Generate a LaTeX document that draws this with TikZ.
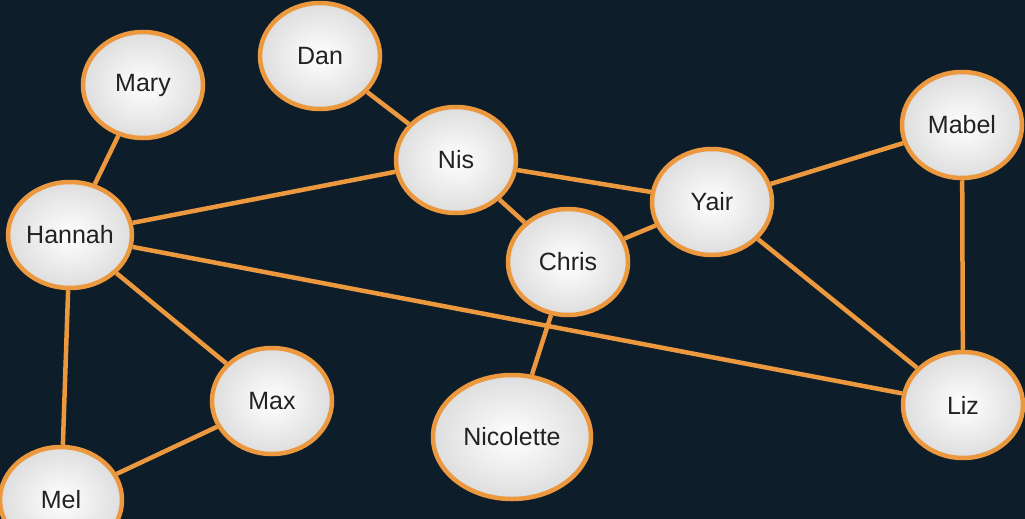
\documentclass[tikz,border=0pt]{standalone}
\usepackage{fontspec}
\setmainfont{Liberation Sans}
\usetikzlibrary{shapes.geometric}
\definecolor{bg}{HTML}{0D1D29}
\definecolor{orng}{HTML}{EB983F}
\definecolor{txt}{HTML}{222222}
\begin{document}
\begin{tikzpicture}[x=1pt,y=-1pt,
  person/.style={ellipse,draw=orng,line width=4.5pt,inner color=white,outer color=black!13,
    minimum width=#1,minimum height=106pt,inner sep=0pt,text=txt,font=\fontsize{25}{28}\selectfont},
  person/.default=120pt,
  link/.style={draw=orng,line width=4.5pt}]
\fill[bg] (0,0) rectangle (1025,519);
\useasboundingbox (0,0) rectangle (1025,519);
\node[person] (mary) at (143,85) {Mary};
\node[person] (dan) at (320,56) {Dan};
\node[person] (nis) at (456,160) {Nis};
\node[person] (mabel) at (962,125) {Mabel};
\node[person=122pt] (hannah) at (70,235) {Hannah};
\node[person] (yair) at (712,202) {Yair};
\node[person] (chris) at (568,262) {Chris};
\node[person] (max) at (272,401) {Max};
\node[person=158pt,minimum height=124pt] (nico) at (512,437) {Nicolette};
\node[person] (liz) at (963,405) {Liz};
\node[person=122pt] (mel) at (61,500) {Mel};
\path[link] (mary) -- (hannah);
\path[link] (dan) -- (nis);
\path[link] (nis) -- (hannah);
\path[link] (nis) -- (yair);
\path[link] (nis) -- (chris);
\path[link] (yair) -- (chris);
\path[link] (yair) -- (mabel);
\path[link] (yair) -- (liz);
\path[link] (mabel) -- (liz);
\path[link] (hannah) -- (liz);
\path[link] (hannah) -- (max);
\path[link] (hannah) -- (mel);
\path[link] (max) -- (mel);
\path[link] (chris) -- (nico);
\end{tikzpicture}
\end{document}
